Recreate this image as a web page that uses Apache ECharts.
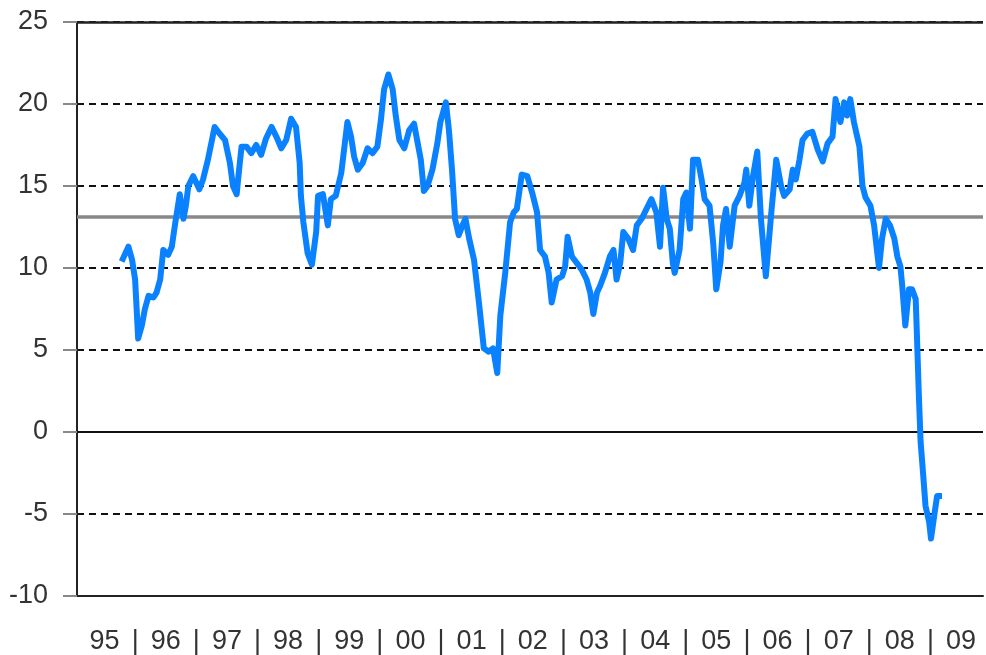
<!DOCTYPE html>
<html><head><meta charset="utf-8">
<script src="https://cdn.jsdelivr.net/npm/echarts@6/dist/echarts.min.js"></script>
<style>html,body{margin:0;padding:0;background:#fff}#c{width:986px;height:655px}</style>
</head><body><div id="c"></div>
<script>
// decimal-year positions of the readings
const dates = [
1995.73,1995.84,1995.90,1995.95,1996.00,1996.06,1996.11,1996.17,1996.25,1996.30,1996.36,1996.41,1996.49,1996.55,1996.60,1996.68,1996.74,1996.78,1996.82,1996.90,
1997.00,1997.06,1997.14,1997.25,1997.33,1997.42,1997.50,1997.55,1997.61,1997.65,1997.69,1997.77,1997.85,1997.93,
1998.01,1998.09,1998.18,1998.26,1998.34,1998.42,1998.50,1998.58,1998.64,1998.66,1998.70,1998.77,1998.84,1998.91,1998.94,
1999.02,1999.10,1999.15,1999.23,1999.32,1999.42,1999.48,1999.53,1999.59,1999.67,1999.75,1999.83,1999.91,1999.97,
2000.02,2000.09,2000.16,2000.21,2000.27,2000.35,2000.43,2000.51,2000.56,2000.62,2000.67,2000.73,2000.81,2000.89,2000.94,
2001.03,2001.08,2001.13,2001.18,2001.24,2001.30,2001.35,2001.41,2001.49,2001.57,2001.65,2001.73,2001.80,2001.87,2001.92,
2002.00,2002.08,2002.14,2002.19,2002.27,2002.36,2002.44,2002.52,2002.57,2002.65,2002.71,2002.76,2002.84,2002.93,2002.98,
2003.02,2003.09,2003.17,2003.25,2003.33,2003.39,2003.44,2003.50,2003.55,2003.63,2003.71,2003.77,2003.82,2003.88,2003.93,
2004.01,2004.09,2004.15,2004.23,2004.31,2004.39,2004.47,2004.53,2004.58,2004.64,2004.69,2004.74,2004.77,2004.85,2004.91,2004.96,
2005.02,2005.07,2005.15,2005.21,2005.26,2005.34,2005.40,2005.45,2005.52,2005.56,2005.61,2005.67,2005.75,2005.83,2005.91,2005.94,2005.99,
2006.05,2006.12,2006.18,2006.26,2006.35,2006.43,2006.51,2006.56,2006.65,2006.70,2006.75,2006.81,2006.86,2006.94,
2007.02,2007.11,2007.19,2007.27,2007.35,2007.40,2007.48,2007.54,2007.59,2007.64,2007.70,2007.79,2007.84,2007.89,2007.97,
2008.03,2008.11,2008.16,2008.22,2008.29,2008.36,2008.41,2008.46,2008.49,2008.54,2008.60,2008.65,2008.71,2008.73,2008.76,2008.79,2008.83,2008.87,2008.93,2008.96,
2009.02,2009.06,2009.14
];
const values = [
10.4,11.3,10.5,9.3,5.7,6.5,7.5,8.3,8.2,8.5,9.3,11.1,10.8,11.3,12.6,14.5,13.0,13.8,15.0,15.6,
14.8,15.4,16.6,18.6,18.2,17.8,16.4,15.0,14.5,16.0,17.4,17.4,17.0,17.5,
16.9,17.9,18.6,18.0,17.3,17.8,19.1,18.6,16.4,14.4,12.8,10.9,10.2,12.2,14.4,
14.5,12.6,14.2,14.4,15.8,18.9,18.0,16.8,16.0,16.4,17.3,17.0,17.4,19.1,
20.9,21.8,20.9,19.3,17.8,17.3,18.4,18.8,17.8,16.6,14.7,15.0,16.0,17.6,18.9,
20.1,18.4,16.0,13.0,12.0,12.6,13.0,11.8,10.5,7.9,5.1,4.9,5.1,3.6,7.1,
9.7,12.8,13.4,13.6,15.7,15.6,14.6,13.4,11.1,10.7,9.7,7.9,9.3,9.5,10.1,
11.9,10.7,10.3,9.9,9.3,8.5,7.2,8.5,8.9,9.7,10.7,11.1,9.3,10.3,12.2,
11.8,11.1,12.6,13.0,13.6,14.2,13.4,11.3,14.9,13.0,12.4,10.3,9.7,11.1,14.2,14.6,
12.4,16.6,16.6,15.4,14.2,13.8,11.5,8.7,10.4,12.6,13.6,11.3,13.8,14.4,15.2,16.0,13.8,
15.6,17.1,13.0,9.5,13.4,16.6,15.0,14.4,14.8,16.0,15.4,16.6,17.8,18.2,
18.3,17.2,16.5,17.6,18.0,20.3,18.9,20.1,19.3,20.3,18.9,17.4,15.0,14.3,13.8,
12.6,10.0,11.8,13.0,12.6,11.8,10.7,10.1,8.9,6.5,8.7,8.7,8.1,5.9,2.4,-0.6,-2.5,-4.5,-5.5,-6.5,
-4.9,-3.9,-3.9
];
const averageValue = 13.15;
const yearLabels = ['95','96','97','98','99','00','01','02','03','04','05','06','07','08','09'];
const firstYear = 1995;
const yMin = -10, yMax = 25, yStep = 5;

const FONT = 'Liberation Sans Narrow, Liberation Sans, Arial, sans-serif';
const chart = echarts.init(document.getElementById('c'), null, {renderer: 'canvas'});
const seriesData = dates.map((d, i) => [d, values[i]]);

chart.setOption({
  animation: false,
  backgroundColor: '#fff',
  grid: {left: 77, right: 0, top: 22, bottom: 58, containLabel: false},
  xAxis: {
    type: 'value', min: firstYear, max: 2009.81, interval: 0.5,
    axisLine: {show: true, onZero: false, lineStyle: {color: '#222', width: 2}},
    axisTick: {show: false},
    splitLine: {show: false},
    axisLabel: {
      margin: 32, fontSize: 27, color: '#333', fontFamily: FONT,
      padding: [0, 6, 0, 0],
      showMinLabel: true, showMaxLabel: true,
      formatter: function (v) {
        const fl = Math.floor(v + 1e-6), f = v - fl;
        if (Math.abs(f - 0.5) < 1e-6) return yearLabels[fl - firstYear] || '';
        if (Math.abs(f) < 1e-6 && v > firstYear && v < firstYear + yearLabels.length) return '|';
        return '';
      }
    }
  },
  yAxis: {
    type: 'value', min: yMin, max: yMax, interval: yStep,
    axisLine: {show: true, onZero: false, lineStyle: {color: '#222', width: 2}},
    axisTick: {show: true, length: 14, lineStyle: {color: '#888', width: 2}},
    axisLabel: {margin: 29, fontSize: 27, color: '#333', fontFamily: FONT, padding: [4, 0, 0, 0]},
    splitLine: {show: true, lineStyle: {color: '#111', width: 2, type: [7, 5]}}
  },
  series: [
    {
      type: 'line', data: [], z: 1, silent: true,
      markLine: {
        silent: true, symbol: 'none', label: {show: false}, animation: false,
        data: [
          {yAxis: yMax, lineStyle: {color: '#222', width: 2.5, type: 'solid'}},
          {yAxis: 0, lineStyle: {color: '#111', width: 2, type: 'solid'}},
          {yAxis: averageValue, lineStyle: {color: '#888', width: 3.5, type: 'solid'}}
        ]
      }
    },
    {
      type: 'line', data: seriesData, z: 5, showSymbol: false, symbol: 'none',
      lineStyle: {color: '#0a82ff', width: 6, join: 'round'}
    }
  ]
});
</script></body></html>
